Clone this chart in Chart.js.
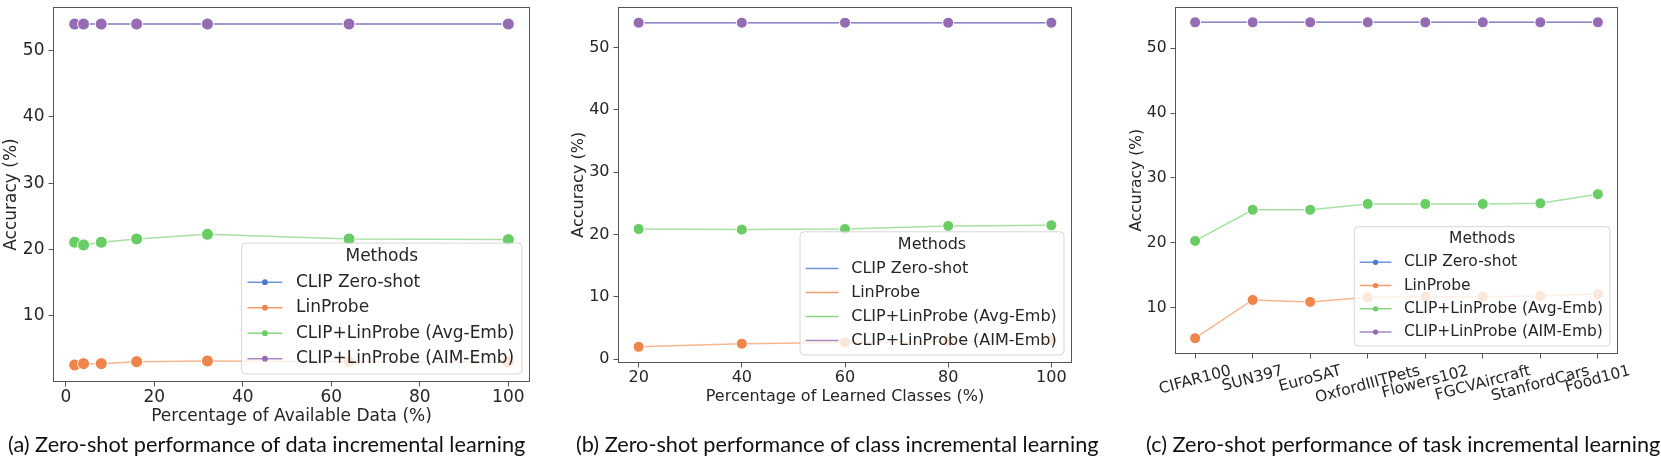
<!DOCTYPE html>
<html>
<head>
<meta charset="utf-8">
<title>Zero-shot performance</title>
<script src="https://cdn.jsdelivr.net/npm/chart.js@4.4.1/dist/chart.umd.min.js"></script>
<style>
  html, body { margin: 0; padding: 0; background: #fff; }
  body { width: 1661px; height: 458px; position: relative; overflow: hidden; }
  canvas { position: absolute; top: 0; }
  .caption { position: absolute; top: 430px; font-family: Lato, "Open Sans", sans-serif; font-size: 21.7px; color: #111; white-space: nowrap; line-height: 28px; }
</style>
</head>
<body>
<canvas id="chartA" width="545" height="432" style="left:0px"></canvas>
<canvas id="chartB" width="530" height="410" style="left:560px"></canvas>
<canvas id="chartC" width="561" height="432" style="left:1100px"></canvas>
<div class="caption" style="left:8px">(a) Zero-shot performance of data incremental learning</div>
<div class="caption" style="left:576px">(b) Zero-shot performance of class incremental learning</div>
<div class="caption" style="left:1146px">(c) Zero-shot performance of task incremental learning</div>
<script>
const methodNames = ['CLIP Zero-shot', 'LinProbe', 'CLIP+LinProbe (Avg-Emb)', 'CLIP+LinProbe (AIM-Emb)'];
const methodColors = ['#4878d0', '#ee854a', '#6acc64', '#956cb4'];

// (a) data incremental
const dataPercent = [2, 4, 8, 16, 32, 64, 100];
const dataClip = [54, 54, 54, 54, 54, 54, 54];
const dataLin = [2.6, 2.8, 2.8, 3.1, 3.2, 3.1, 3.1];
const dataAvg = [21.1, 20.7, 21.1, 21.6, 22.3, 21.6, 21.5];
const dataAim = [54, 54, 54, 54, 54, 54, 54];
const dataXTicks = [0, 20, 40, 60, 80, 100];
const dataYTicks = [10, 20, 30, 40, 50];

// (b) class incremental
const classPercent = [20, 40, 60, 80, 100];
const classClip = [54, 54, 54, 54, 54];
const classLin = [2.0, 2.5, 2.7, 2.8, 3.1];
const classAvg = [20.9, 20.8, 20.9, 21.4, 21.5];
const classAim = [54, 54, 54, 54, 54];
const classXTicks = [20, 40, 60, 80, 100];
const classYTicks = [0, 10, 20, 30, 40, 50];

// (c) task incremental
const tasks = ['CIFAR100', 'SUN397', 'EuroSAT', 'OxfordIIITPets', 'Flowers102', 'FGCVAircraft', 'StanfordCars', 'Food101'];
const taskClip = [54, 54, 54, 54, 54, 54, 54, 54];
const taskLin = [5.3, 11.2, 10.9, 11.6, 11.7, 11.7, 11.8, 12.1];
const taskAvg = [20.3, 25.1, 25.1, 26.0, 26.0, 26.0, 26.1, 27.5];
const taskAim = [54, 54, 54, 54, 54, 54, 54, 54];
const taskYTicks = [10, 20, 30, 40, 50];

const inkColor = '#262626';
const spineColor = '#555';
const plotFont = '"DejaVu Sans", sans-serif';

Chart.defaults.font.family = plotFont;

function fade(hex, a) {
  const n = parseInt(hex.slice(1), 16);
  return 'rgba(' + (n >> 16) + ',' + ((n >> 8) & 255) + ',' + (n & 255) + ',' + a + ')';
}

function lineSets(xs, series, radius) {
  // later methods get a lower order so they are drawn on top
  return series.map((ys, k) => ({
    label: methodNames[k],
    data: xs.map((x, i) => ({x: x, y: ys[i]})),
    borderColor: fade(methodColors[k], 0.6),
    borderWidth: 1.5,
    backgroundColor: methodColors[k],
    pointBackgroundColor: methodColors[k],
    pointBorderColor: '#fff',
    pointBorderWidth: 1,
    pointRadius: radius,
    pointHoverRadius: radius,
    order: series.length - k
  }));
}

function axis(size, ticks, fitSize, horizontal) {
  return {
    type: 'linear',
    grid: {display: true, drawOnChartArea: false, drawTicks: true, tickLength: 4.5, color: spineColor, lineWidth: 1},
    border: {display: false},
    ticks: {color: inkColor, font: {family: plotFont, size: size}, padding: horizontal ? 1 : 4, autoSkip: false, maxRotation: 0, minRotation: 0},
    afterBuildTicks: s => { s.ticks = ticks.map(v => ({value: v})); },
    afterFit: s => {
      if (horizontal) s.height = fitSize; else s.width = fitSize;
      // keep label overhang from shrinking the plot area
      s.paddingTop = 0; s.paddingBottom = 0; s.paddingLeft = 0; s.paddingRight = 0;
    }
  };
}

const frameBox = {
  id: 'frameBox',
  afterDraw(chart) {
    const {ctx, chartArea: a} = chart;
    ctx.save();
    ctx.strokeStyle = spineColor;
    ctx.lineWidth = 1;
    const l = Math.round(a.left) + 0.5, t = Math.round(a.top) + 0.5;
    const r = Math.round(a.right) - 0.5, b = Math.round(a.bottom) - 0.5;
    ctx.strokeRect(l, t, r - l, b - t);
    ctx.restore();
  }
};

const cornerLegend = {
  id: 'cornerLegend',
  afterDatasetsDraw(chart, args, opts) {
    if (!opts.size) return;
    const {ctx, chartArea} = chart;
    const f = opts.size;
    ctx.save();
    ctx.font = f + 'px ' + plotFont;
    const textW = Math.max(...methodNames.map(n => ctx.measureText(n).width));
    const w = 3.2 * f + textW + 0.45 * f;
    const h = 7.7 * f;
    const x = chartArea.right - opts.inset - w;
    const y = chartArea.bottom - opts.inset - h;
    ctx.beginPath();
    ctx.roundRect(x, y, w, h, 4);
    ctx.fillStyle = 'rgba(255,255,255,0.8)';
    ctx.fill();
    ctx.strokeStyle = 'rgba(204,204,204,0.8)';
    ctx.lineWidth = 1;
    ctx.stroke();
    ctx.fillStyle = inkColor;
    ctx.textBaseline = 'middle';
    ctx.textAlign = 'center';
    ctx.fillText('Methods', x + w / 2, y + 0.8 * f);
    ctx.textAlign = 'left';
    methodNames.forEach((name, k) => {
      const cy = y + 2.3 * f + k * 1.5 * f;
      ctx.strokeStyle = fade(methodColors[k], 0.8);
      ctx.lineWidth = 1.5;
      ctx.beginPath();
      ctx.moveTo(x + 0.35 * f, cy);
      ctx.lineTo(x + 2.4 * f, cy);
      ctx.stroke();
      if (opts.markers) {
        ctx.fillStyle = methodColors[k];
        ctx.beginPath();
        ctx.arc(x + 1.375 * f, cy, 0.17 * f, 0, Math.PI * 2);
        ctx.fill();
      }
      ctx.fillStyle = inkColor;
      ctx.fillText(name, x + 3.2 * f, cy);
    });
    ctx.restore();
  }
};

const slantedLabels = {
  id: 'slantedLabels',
  afterDraw(chart, args, opts) {
    if (!opts.labels) return;
    const ctx = chart.ctx;
    const scale = chart.scales.x;
    const f = opts.size;
    const ang = opts.angle * Math.PI / 180;
    ctx.save();
    ctx.font = f + 'px ' + plotFont;
    ctx.fillStyle = inkColor;
    ctx.textAlign = 'center';
    ctx.textBaseline = 'middle';
    opts.labels.forEach((txt, i) => {
      const w = ctx.measureText(txt).width;
      const boxH = w * Math.sin(ang) + 1.17 * f * Math.cos(ang);
      const px = scale.getPixelForValue(i);
      const py = chart.chartArea.bottom + opts.offset + boxH / 2;
      ctx.save();
      ctx.translate(px, py);
      ctx.rotate(-ang);
      ctx.fillText(txt, 0, 0);
      ctx.restore();
    });
    ctx.restore();
  }
};

function renderPanel(id, cfg) {
  const ctx = document.getElementById(id);
  const x = axis(cfg.size, cfg.xTicks, cfg.xHeight, true);
  x.min = cfg.xMin;
  x.max = cfg.xMax;
  if (cfg.xTitle) {
    x.title = {display: true, text: cfg.xTitle, color: inkColor, font: {family: plotFont, size: cfg.size}, padding: {top: 0, bottom: cfg.xTitlePad}};
  }
  if (cfg.slanted) x.ticks.display = false;
  const y = axis(cfg.size, cfg.yTicks, cfg.yWidth, false);
  y.min = cfg.yMin;
  y.max = cfg.yMax;
  y.title = {display: true, text: 'Accuracy (%)', color: inkColor, font: {family: plotFont, size: cfg.size}, padding: {top: cfg.yTitlePad, bottom: 0}};

  new Chart(ctx, {
    type: 'line',
    data: {datasets: lineSets(cfg.xs, cfg.series, cfg.radius)},
    options: {
      responsive: false,
      animation: false,
      devicePixelRatio: 1,
      layout: {padding: {left: 0, top: 3, right: cfg.padRight, bottom: 0}},
      plugins: {
        legend: {display: false},
        tooltip: {enabled: false},
        cornerLegend: {size: cfg.size, inset: 8, markers: cfg.markers},
        slantedLabels: cfg.slanted ? {labels: tasks, size: cfg.size, angle: 15, offset: 8} : {}
      },
      scales: {x: x, y: y}
    },
    plugins: [frameBox, cornerLegend, slantedLabels]
  });
}

renderPanel('chartA', {
  xs: dataPercent, series: [dataClip, dataLin, dataAvg, dataAim],
  xMin: -2.9, xMax: 104.9, yMin: 0.03, yMax: 56.57,
  xTicks: dataXTicks, yTicks: dataYTicks,
  xTitle: 'Percentage of Available Data (%)',
  size: 17, radius: 6, markers: true,
  xHeight: 50, yWidth: 53, padRight: 15, xTitlePad: 4.8, yTitlePad: 1.8
});

renderPanel('chartB', {
  xs: classPercent, series: [classClip, classLin, classAvg, classAim],
  xMin: 16, xMax: 104, yMin: -0.6, yMax: 56.6,
  xTicks: classXTicks, yTicks: classYTicks,
  xTitle: 'Percentage of Learned Classes (%)',
  size: 16, radius: 5.5, markers: false,
  xHeight: 47, yWidth: 58, padRight: 18, xTitlePad: 3.4, yTitlePad: 8.9
});

renderPanel('chartC', {
  xs: tasks.map((t, i) => i), series: [taskClip, taskLin, taskAvg, taskAim],
  xMin: -0.35, xMax: 7.35, yMin: 2.87, yMax: 56.43,
  xTicks: tasks.map((t, i) => i), yTicks: taskYTicks,
  xTitle: null, slanted: true,
  size: 15.5, radius: 5.5, markers: true,
  xHeight: 78, yWidth: 75, padRight: 43, xTitlePad: 0, yTitlePad: 27.7
});
</script>
</body>
</html>
